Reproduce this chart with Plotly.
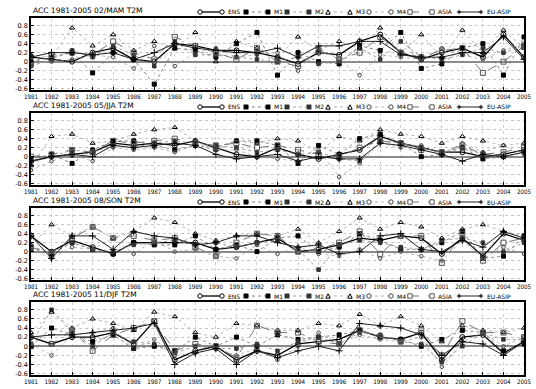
import plotly.graph_objects as go

years = list(range(1981, 2006))
series_names = ["ENS", "M1", "M2", "M3", "M4", "ASIA", "EU-ASIP"]
panel_titles = ["ACC 1981-2005 02/MAM T2M", "ACC 1981-2005 05/JJA T2M",
                "ACC 1981-2005 08/SON T2M", "ACC 1981-2005 11/DJF T2M"]
y_tickvals = [0.8, 0.6, 0.4, 0.2, 0, -0.2, -0.4, -0.6]
y_ticktext = ["0.8", "0.6", "0.4", "0.2", "0", "-0.2", "-0.4", "-0.6"]

mam_ens = [0.1, 0.05, 0.0, 0.2, 0.3, 0.05, 0.0, 0.4, 0.35, 0.25, 0.25, 0.2, 0.1, -0.05, 0.2, 0.15, 0.45, 0.6, 0.2, 0.05, 0.2, 0.3, 0.1, 0.6, 0.1]
mam_m1 = [0.0, 0.1, 0.2, -0.25, 0.2, 0.05, -0.5, 0.3, 0.25, 0.1, 0.4, 0.65, -0.3, 0.2, 0.0, -0.05, 0.35, 0.25, 0.65, -0.15, -0.05, 0.3, 0.4, -0.3, 0.55]
mam_m2 = [-0.1, 0.05, 0.25, 0.1, 0.35, 0.15, -0.1, 0.45, 0.15, 0.15, 0.1, 0.05, 0.0, 0.1, -0.05, 0.0, 0.3, 0.05, 0.45, 0.1, 0.05, 0.15, 0.3, 0.2, 0.35]
mam_m3 = [0.15, 0.1, 0.75, 0.35, 0.6, 0.25, 0.45, 0.3, 0.65, 0.0, 0.45, 0.3, 0.1, 0.55, 0.25, 0.45, 0.3, 0.75, 0.2, 0.6, 0.1, 0.7, 0.2, 0.7, 0.3]
mam_m4 = [-0.05, 0.0, 0.05, 0.15, 0.1, -0.15, 0.35, -0.1, 0.2, 0.3, 0.1, 0.15, 0.2, -0.2, 0.3, 0.05, -0.3, 0.15, 0.1, 0.05, 0.3, 0.15, 0.05, 0.25, 0.4]
mam_asia = [-0.05, 0.15, 0.2, 0.15, 0.45, 0.2, 0.05, 0.55, 0.35, 0.2, 0.05, 0.3, 0.0, -0.1, 0.25, 0.05, 0.2, 0.55, 0.2, 0.1, 0.25, 0.3, -0.25, 0.0, 0.35]
mam_euasip = [0.1, 0.2, 0.2, 0.15, 0.2, 0.05, 0.2, 0.4, 0.3, 0.25, 0.2, 0.2, 0.3, 0.1, 0.35, 0.35, 0.45, 0.45, 0.15, 0.1, 0.1, 0.2, 0.2, 0.55, 0.05]

jja_ens = [-0.1, 0.0, 0.05, 0.1, 0.3, 0.25, 0.3, 0.25, 0.35, 0.2, 0.05, 0.0, 0.2, 0.05, -0.05, 0.05, 0.15, 0.45, 0.3, 0.2, 0.1, 0.1, 0.0, 0.05, 0.15]
jja_m1 = [-0.05, 0.05, -0.15, 0.15, 0.35, 0.35, 0.25, 0.15, 0.25, 0.2, 0.35, 0.35, 0.25, -0.15, 0.25, 0.05, 0.4, 0.5, 0.3, 0.0, 0.05, 0.2, -0.05, 0.0, 0.1]
jja_m2 = [-0.15, 0.0, 0.15, 0.1, 0.25, 0.2, 0.3, 0.35, 0.3, 0.25, 0.2, 0.1, 0.15, 0.05, 0.1, -0.05, -0.1, 0.35, 0.3, 0.2, 0.1, 0.2, 0.05, 0.0, 0.1]
jja_m3 = [-0.2, 0.45, 0.5, 0.3, 0.35, 0.5, 0.6, 0.65, 0.35, 0.15, 0.35, 0.3, 0.4, 0.35, 0.1, 0.45, 0.35, 0.6, 0.5, 0.45, 0.3, 0.45, 0.35, 0.25, 0.3]
jja_m4 = [-0.3, -0.1, 0.05, -0.1, 0.2, 0.15, 0.2, 0.1, 0.25, 0.15, 0.15, 0.0, -0.05, -0.1, 0.15, -0.45, -0.15, 0.3, 0.2, 0.25, 0.05, 0.3, 0.1, 0.25, 0.05]
jja_asia = [0.0, 0.05, 0.15, 0.1, 0.35, 0.3, 0.35, 0.4, 0.3, 0.25, 0.3, 0.2, 0.25, 0.15, 0.05, 0.0, 0.2, 0.35, 0.3, 0.15, 0.1, 0.25, 0.05, 0.1, 0.2]
jja_euasip = [-0.1, 0.0, 0.05, 0.0, 0.25, 0.2, 0.25, 0.3, 0.25, 0.05, -0.05, 0.0, 0.05, -0.1, 0.0, -0.05, -0.05, 0.3, 0.25, 0.15, 0.05, -0.1, 0.05, 0.0, 0.1]

son_ens = [0.35, 0.0, 0.25, 0.1, -0.05, 0.2, 0.2, 0.2, 0.2, 0.05, 0.1, 0.2, 0.3, 0.0, 0.05, 0.15, 0.3, 0.25, 0.35, 0.3, -0.05, 0.3, -0.1, 0.4, 0.25]
son_m1 = [0.05, -0.05, 0.2, 0.05, -0.05, 0.2, 0.15, 0.15, 0.35, 0.05, 0.15, 0.0, 0.3, 0.35, 0.0, 0.1, 0.4, 0.25, 0.05, 0.05, 0.2, 0.45, -0.15, -0.1, 0.35]
son_m2 = [0.1, 0.0, 0.2, 0.05, 0.0, 0.15, 0.2, 0.25, 0.15, 0.2, 0.1, 0.2, 0.25, 0.05, -0.4, 0.15, 0.25, 0.2, 0.1, 0.05, 0.25, 0.3, 0.2, 0.0, 0.2]
son_m3 = [0.15, 0.6, 0.35, 0.55, 0.3, 0.45, 0.75, 0.65, 0.4, 0.25, 0.35, 0.4, 0.35, 0.5, 0.2, 0.45, 0.75, 0.5, 0.65, 0.55, 0.3, 0.5, 0.6, 0.45, 0.35]
son_m4 = [0.05, -0.15, 0.1, 0.05, 0.3, -0.05, 0.25, 0.0, 0.05, -0.1, -0.15, 0.15, -0.05, 0.1, -0.05, -0.1, 0.05, -0.15, 0.0, -0.1, -0.2, 0.25, -0.15, 0.1, -0.05]
son_asia = [0.1, -0.05, 0.3, 0.55, 0.3, 0.35, 0.25, 0.3, 0.1, -0.1, 0.2, 0.4, 0.35, 0.0, 0.05, 0.2, 0.45, -0.05, 0.35, 0.35, -0.25, 0.4, -0.2, 0.2, 0.3]
son_euasip = [0.35, -0.15, 0.35, 0.35, 0.05, 0.45, 0.35, 0.3, 0.15, 0.2, 0.35, 0.35, 0.2, 0.1, 0.15, -0.05, 0.0, 0.35, 0.4, 0.05, 0.0, 0.25, 0.1, 0.45, 0.3]

djf_ens = [0.2, 0.05, 0.2, 0.2, 0.3, 0.05, 0.55, -0.3, -0.1, 0.0, -0.3, -0.1, -0.2, 0.05, 0.1, 0.15, 0.35, 0.2, 0.15, 0.3, -0.3, 0.2, 0.25, -0.15, 0.1]
djf_m1 = [0.0, 0.4, 0.25, 0.1, 0.25, -0.05, 0.0, -0.1, 0.2, 0.0, 0.2, 0.0, 0.25, 0.15, 0.2, 0.25, 0.35, 0.2, 0.15, 0.0, 0.15, 0.35, 0.3, -0.1, 0.05]
djf_m2 = [0.05, 0.8, 0.3, 0.0, 0.3, 0.1, 0.05, -0.15, 0.0, -0.05, -0.05, 0.05, -0.1, 0.1, 0.2, 0.05, 0.3, 0.25, 0.1, 0.05, -0.35, 0.0, 0.3, 0.15, 0.15]
djf_m3 = [0.3, 0.75, 0.4, 0.6, 0.5, 0.35, 0.75, 0.65, 0.3, 0.2, 0.5, 0.45, 0.35, 0.35, 0.5, 0.45, 0.7, 0.45, 0.65, 0.45, 0.1, 0.45, 0.35, 0.3, 0.4]
djf_m4 = [0.05, -0.2, 0.25, 0.3, 0.4, -0.05, 0.15, -0.2, -0.15, -0.05, -0.2, -0.05, -0.3, 0.0, 0.3, 0.05, 0.25, 0.15, 0.1, 0.2, -0.45, 0.1, 0.3, 0.0, 0.2]
djf_asia = [0.0, 0.05, 0.35, -0.1, 0.25, 0.4, 0.55, -0.1, 0.05, 0.0, -0.25, 0.45, 0.3, 0.3, 0.1, 0.05, 0.35, 0.2, 0.1, 0.35, -0.2, 0.55, 0.3, 0.3, 0.2]
djf_euasip = [0.2, 0.25, 0.25, 0.3, 0.35, 0.4, 0.5, -0.4, -0.15, -0.05, -0.4, -0.1, -0.25, -0.1, 0.0, -0.1, 0.5, 0.45, 0.4, 0.25, -0.2, 0.1, 0.05, -0.2, 0.1]

panels = [
    [mam_ens, mam_m1, mam_m2, mam_m3, mam_m4, mam_asia, mam_euasip],
    [jja_ens, jja_m1, jja_m2, jja_m3, jja_m4, jja_asia, jja_euasip],
    [son_ens, son_m1, son_m2, son_m3, son_m4, son_asia, son_euasip],
    [djf_ens, djf_m1, djf_m2, djf_m3, djf_m4, djf_asia, djf_euasip],
]

styles = [
    dict(symbol="circle-open", size=5, mcolor="black", lcolor="black", dash="solid", lw=1.3),
    dict(symbol="square", size=4, mcolor="black", lcolor="#666", dash="dot", lw=0.8),
    dict(symbol="square", size=3.5, mcolor="#333", lcolor="#888", dash="dot", lw=0.8),
    dict(symbol="triangle-up-open", size=4.5, mcolor="black", lcolor="#999", dash="dot", lw=0.7),
    dict(symbol="circle-open", size=3.5, mcolor="#444", lcolor="#999", dash="dot", lw=0.7),
    dict(symbol="square-open", size=5, mcolor="#555", lcolor="#777", dash="dash", lw=1.0),
    dict(symbol="cross-thin-open", size=5, mcolor="black", lcolor="#222", dash="solid", lw=1.0),
]

W, H = 536, 389
x_dom = [31 / W, 524 / W]
panel_px = [(18, 90), (113, 185), (208, 280), (302, 375)]

def glyph(sym, xp, yp, color):
    base = dict(xref="paper", yref="paper", xsizemode="pixel", ysizemode="pixel",
                xanchor=xp, yanchor=yp, layer="above")
    r = 2.2
    if sym == "circle-open":
        return dict(type="circle", x0=-r, x1=r, y0=-r, y1=r,
                    line=dict(color=color, width=1), fillcolor="white", **base)
    if sym == "square":
        return dict(type="rect", x0=-r, x1=r, y0=-r, y1=r,
                    line=dict(color=color, width=0.5), fillcolor=color, **base)
    if sym == "square-open":
        return dict(type="rect", x0=-r, x1=r, y0=-r, y1=r,
                    line=dict(color=color, width=1), fillcolor="white", **base)
    if sym == "triangle-up-open":
        return dict(type="path", path=f"M {-r},{-r} L {r},{-r} L 0,{r} Z",
                    line=dict(color=color, width=1), fillcolor="white", **base)
    return dict(type="path", path=f"M {-r},0 L {r},0 M 0,{-r} L 0,{r}",
                line=dict(color=color, width=1), **base)

legend_start = 200
legend_line = 22
legend_text_w = [14, 9, 9, 9, 9, 17, 28]

fig = go.Figure()
annotations = []
shapes = []
for p, (top, bot) in enumerate(panel_px):
    idx = "" if p == 0 else str(p + 1)
    xa, ya = "x" + idx, "y" + idx
    for s, vals in enumerate(panels[p]):
        st = styles[s]
        fig.add_trace(go.Scatter(
            x=years, y=vals, xaxis=xa, yaxis=ya, mode="lines+markers",
            name=series_names[s], showlegend=False,
            line=dict(color=st["lcolor"], dash=st["dash"], width=st["lw"]),
            marker=dict(symbol=st["symbol"], size=st["size"], color=st["mcolor"],
                        line=dict(color=st["mcolor"], width=1)),
        ))
    ydom = [1 - bot / H, 1 - top / H]
    fig.layout["xaxis" + idx] = dict(
        domain=x_dom, anchor=ya, range=[1981, 2005], tickvals=years,
        ticktext=[str(y) for y in years], tickangle=0,
        tickfont=dict(size=6.2, family="DejaVu Sans Condensed, DejaVu Sans", color="black"),
        showline=True, linecolor="black", linewidth=1.5, mirror=True,
        ticks="inside", ticklen=3, tickcolor="black",
        showgrid=True, gridcolor="#d0d0d0", griddash="dot", gridwidth=1,
        zeroline=False,
    )
    fig.layout["yaxis" + idx] = dict(
        domain=ydom, anchor=xa, range=[-0.63, 0.97], tickvals=y_tickvals,
        ticktext=y_ticktext, tickfont=dict(size=6.5, family="DejaVu Sans", color="black"),
        showline=True, linecolor="black", linewidth=1.5, mirror=True,
        ticks="inside", ticklen=3, tickcolor="black",
        showgrid=True, gridcolor="#c8c8c8", griddash="dot", gridwidth=1,
        zeroline=True, zerolinecolor="#8a8a8a", zerolinewidth=2,
    )
    annotations.append(dict(
        text=panel_titles[p], xref="paper", yref="paper", x=31 / W, y=ydom[1] + 0.003,
        xanchor="left", yanchor="bottom", showarrow=False,
        font=dict(size=7.5, family="DejaVu Sans", color="black"),
    ))
    ly = 1 - (top - 6) / H
    xpx = legend_start
    for s, name in enumerate(series_names):
        st = styles[s]
        x0 = xpx / W
        x1 = (xpx + legend_line) / W
        shapes.append(dict(type="line", xref="paper", yref="paper", x0=x0, x1=x1,
                           y0=ly, y1=ly, line=dict(color=st["lcolor"], dash=st["dash"], width=st["lw"])))
        shapes.append(glyph(st["symbol"], x0, ly, st["mcolor"]))
        shapes.append(glyph(st["symbol"], x1, ly, st["mcolor"]))
        annotations.append(dict(
            text=name, xref="paper", yref="paper", x=(xpx + legend_line + 4) / W, y=ly,
            xanchor="left", yanchor="middle", showarrow=False,
            font=dict(size=6, family="DejaVu Sans", color="black"),
        ))
        xpx += legend_line + 4 + legend_text_w[s] + 6

fig.update_layout(
    width=W, height=H, margin=dict(l=0, r=0, t=0, b=0, autoexpand=False),
    paper_bgcolor="white", plot_bgcolor="white",
    annotations=annotations, shapes=shapes, showlegend=False,
)
fig.write_html("out.html", config={"displayModeBar": False},
               post_script="document.body.style.margin='0px';document.body.style.overflow='hidden';")
